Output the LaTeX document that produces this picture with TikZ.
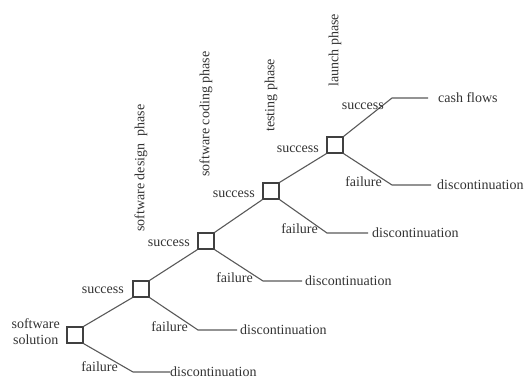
\documentclass[tikz,border=0pt]{standalone}
\usepackage{fontspec}
\setmainfont{Liberation Serif}
\begin{document}
\begin{tikzpicture}[x=1pt,y=-1pt,
  dbox/.style={draw=black!75, line width=1.3pt, minimum size=16pt, inner sep=0pt},
  lbl/.style={font=\fontsize{14}{16}\selectfont, text=black!80, inner sep=0pt},
  br/.style={draw=black!65, line width=1.1pt},
  phase/.style={lbl, rotate=90, anchor=west}]
\useasboundingbox (0,0) rectangle (525,376);

% decision boxes
\node[dbox] (b0) at (75,335) {};
\node[dbox] (b1) at (141,289) {};
\node[dbox] (b2) at (206,241) {};
\node[dbox] (b3) at (271,191) {};
\node[dbox] (b4) at (335,145) {};

% root label
\node[lbl, align=center, anchor=east] (root) at (60,332) {software\\solution};

% phase labels
\node[phase] (p1) at (141,232) {software design\ \ phase};
\node[phase] (p2) at (206,177) {software coding phase};
\node[phase] (p3) at (271,132) {testing phase};
\node[phase] (p4) at (335,87) {launch phase};

% success branches
\draw[br] (b0.north east) -- (b1.south west);
\draw[br] (b1.north east) -- (b2.south west);
\draw[br] (b2.north east) -- (b3.south west);
\draw[br] (b3.north east) -- (b4.south west);
\node[lbl, anchor=east] (s1) at (124,290) {success};
\node[lbl, anchor=east] (s2) at (190,243) {success};
\node[lbl, anchor=east] (s3) at (255,194) {success};
\node[lbl, anchor=east] (s4) at (319,149) {success};

% final success -> cash flows
\coordinate (c4) at (392,98);
\node[lbl, anchor=west] (cash) at (438,98) {cash flows};
\draw[br] (b4.north east) -- (c4) -- ([xshift=-10pt]cash.west);
\node[lbl, anchor=east] (s5) at (384,106) {success};

% failure branches
\coordinate (f0) at (133,372);
\node[lbl, anchor=west] (d0) at (170,372) {discontinuation};
\draw[br] (b0.south east) -- (f0) -- (d0.west);
\node[lbl, anchor=east] (x0) at (118,367) {failure};

\coordinate (f1) at (198,330);
\node[lbl, anchor=west] (d1) at (240,330) {discontinuation};
\draw[br] (b1.south east) -- (f1) -- ([xshift=-3pt]d1.west);
\node[lbl, anchor=east] (x1) at (188,327) {failure};

\coordinate (f2) at (263,281);
\node[lbl, anchor=west] (d2) at (305,281) {discontinuation};
\draw[br] (b2.south east) -- (f2) -- ([xshift=-3pt]d2.west);
\node[lbl, anchor=east] (x2) at (253,278) {failure};

\coordinate (f3) at (327,233);
\node[lbl, anchor=west] (d3) at (372,233) {discontinuation};
\draw[br] (b3.south east) -- (f3) -- ([xshift=-4pt]d3.west);
\node[lbl, anchor=east] (x3) at (318,229) {failure};

\coordinate (f4) at (392,185);
\node[lbl, anchor=west] (d4) at (437,185) {discontinuation};
\draw[br] (b4.south east) -- (f4) -- ([xshift=-6pt]d4.west);
\node[lbl, anchor=east] (x4) at (382,182) {failure};
\end{tikzpicture}
\end{document}
